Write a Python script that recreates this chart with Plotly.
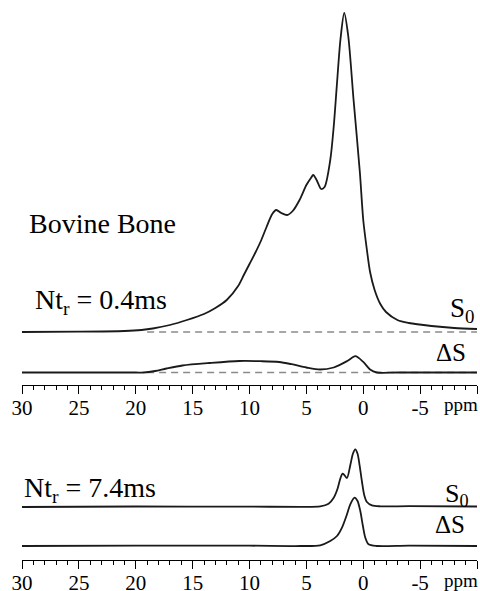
import plotly.graph_objects as go

# ---- 1H spectra of bovine bone, chemical shift in ppm, intensity in a.u. ----
# Nt_r = 0.4 ms : reference spectrum S0 and difference spectrum dS
top_s0_ppm = [30, 25, 21, 19.5, 18.5, 17, 15.5, 14, 13, 12, 11, 10.5, 10, 9.5, 9,
              8.5, 8, 7.65, 7.2, 6.7, 6.2, 5.6, 5.0, 4.6, 4.4, 4.1, 3.7, 3.4, 2.9,
              2.6, 2.3, 2.0, 1.67, 1.32, 0.85, 0.3, 0.0, -0.3, -0.6, -1.0, -1.5,
              -2, -3, -4, -6, -8, -10]
top_s0_int = [0, 0.3, 1, 2, 3.5, 7, 12, 18, 24, 32, 46, 57, 68, 79, 91,
              105, 118, 122, 119, 117, 121, 132, 147, 154, 157, 152, 143, 145, 172,
              205, 250, 293, 319, 296, 232, 160, 112, 84, 60, 42, 28,
              20, 12, 9, 6, 4, 3]

top_ds_ppm = [30, 20, 19.3, 18.3, 17.3, 15.9, 13.5, 10.9, 9, 7.4, 6.3, 5.0, 3.8,
              2.6, 1.4, 0.7, 0.0, -0.6, -1.2, -3, -10]
top_ds_int = [0, 0, 0, 1.5, 4, 7, 9.5, 11.5, 11.3, 10.5, 8.3, 5, 3,
              5, 11.5, 16.3, 10.6, 3, 0, 0, 0]

# Nt_r = 7.4 ms
bot_s0_ppm = [30, 20, 10, 5.5, 3.78, 3.05, 2.61, 2.26, 2.02, 1.82, 1.64, 1.43,
              1.14, 0.91, 0.70, 0.50, 0.32, 0.11, -0.09, -0.32, -0.76, -1.5, -4, -10]
bot_s0_int = [0, 0.5, 0.3, 0.2, 0.7, 3.3, 9, 18.3, 28.3, 33.3, 31.7, 29,
              41.7, 53.3, 57.7, 53.3, 41.7, 25, 11.7, 5, 1.7, 0.7, 0.8, 0.5]

bot_ds_ppm = [30, 20, 10, 5.5, 3.78, 2.9, 2.31, 1.87, 1.43, 1.14, 0.76, 0.5, 0.26,
              0.03, -0.18, -0.47, -1.2, -4, -10]
bot_ds_int = [0, 0.4, 0.3, 0, 0.7, 5, 10, 18.4, 31.7, 41.7, 48.4, 45, 35,
              20, 8.4, 1.7, 0, 0.3, 0]

tick_vals = [30, 25, 20, 15, 10, 5, 0, -5, -10]
tick_text = ["30", "25", "20", "15", "10", "5", "0", "-5", ""]

# ---- layout constants (pixels of a 480 x 591 page) ----
W, H = 480, 591
SERIF = "'Liberation Serif', 'Times New Roman', Times, 'DejaVu Serif', serif"
INK = "#1a1a1a"

TOP_AXIS_PX, TOP_SPAN = 385, 385      # top panel: y value v -> pixel 385 - v
BOT_AXIS_PX, BOT_SPAN = 560, 140      # bottom panel: v -> pixel 560 - v
TOP_S0_BASE, TOP_DS_BASE = 53, 12.5
BOT_S0_BASE, BOT_DS_BASE = 53, 14
DASH_FROM = 19                        # ppm where the dashed baselines start


def pyf(px):
    return 1 - px / H


def shifted(vals, base):
    return [v + base for v in vals]


fig = go.Figure()
line = dict(color=INK, width=1.8, shape="spline", smoothing=0.8)
fig.add_trace(go.Scatter(x=top_s0_ppm, y=shifted(top_s0_int, TOP_S0_BASE),
                         mode="lines", line=line, xaxis="x", yaxis="y"))
fig.add_trace(go.Scatter(x=top_ds_ppm, y=shifted(top_ds_int, TOP_DS_BASE),
                         mode="lines", line=line, xaxis="x", yaxis="y"))
fig.add_trace(go.Scatter(x=bot_s0_ppm, y=shifted(bot_s0_int, BOT_S0_BASE),
                         mode="lines", line=line, xaxis="x2", yaxis="y2"))
fig.add_trace(go.Scatter(x=bot_ds_ppm, y=shifted(bot_ds_int, BOT_DS_BASE),
                         mode="lines", line=line, xaxis="x2", yaxis="y2"))

# dashed zero lines under the 0.4 ms spectra
for base in (TOP_S0_BASE, TOP_DS_BASE):
    fig.add_shape(type="line", xref="x", yref="y", x0=DASH_FROM, x1=-10,
                  y0=base, y1=base, layer="below",
                  line=dict(color="#8a8a8a", width=1.5, dash="7px,5px"))

axis_common = dict(
    range=[30, -10], showline=True, linecolor="black", linewidth=1,
    ticks="outside", ticklen=8, tickwidth=1, tickcolor="black",
    tickmode="array", tickvals=tick_vals, ticktext=tick_text,
    tickfont=dict(family=SERIF, size=21, color="black"),
    ticklabelstandoff=-4,
    minor=dict(ticks="outside", ticklen=4, tickwidth=1, tickcolor="black",
               dtick=1, tick0=0, showgrid=False),
    showgrid=False, zeroline=False, fixedrange=True, automargin=False,
)

fig.update_layout(
    width=W, height=H,
    margin=dict(l=22, r=3, t=0, b=0, autoexpand=False),
    paper_bgcolor="white", plot_bgcolor="white",
    showlegend=False,
    xaxis=dict(axis_common, domain=[0, 1], anchor="y"),
    yaxis=dict(domain=[pyf(TOP_AXIS_PX), 1], range=[0, TOP_SPAN], visible=False,
               fixedrange=True, automargin=False),
    xaxis2=dict(axis_common, domain=[0, 1], anchor="y2"),
    yaxis2=dict(domain=[pyf(BOT_AXIS_PX), pyf(BOT_AXIS_PX - BOT_SPAN)],
                range=[0, BOT_SPAN], visible=False, fixedrange=True,
                automargin=False),
)


def label(text, xpx, ypx, size, anchor="left"):
    fig.add_annotation(text=text, xref="paper", yref="paper",
                       x=(xpx - 22) / (W - 25), y=pyf(ypx),
                       xanchor=anchor, yanchor="middle", showarrow=False,
                       font=dict(family=SERIF, size=size, color="black"))


label("Bovine Bone", 27, 224, 28)
label("Nt<sub>r</sub> = 0.4ms", 33, 301, 28)
label("S<sub>0</sub>", 476, 310, 27, "right")
label("\u0394S", 468, 352, 25, "right")
label("Nt<sub>r</sub> = 7.4ms", 22, 489, 28)
label("S<sub>0</sub>", 471, 495, 26, "right")
label("\u0394S", 467, 524, 25, "right")
label("ppm", 480, 405, 19, "right")
label("ppm", 480, 580, 19, "right")

fig.write_html("out.html")
